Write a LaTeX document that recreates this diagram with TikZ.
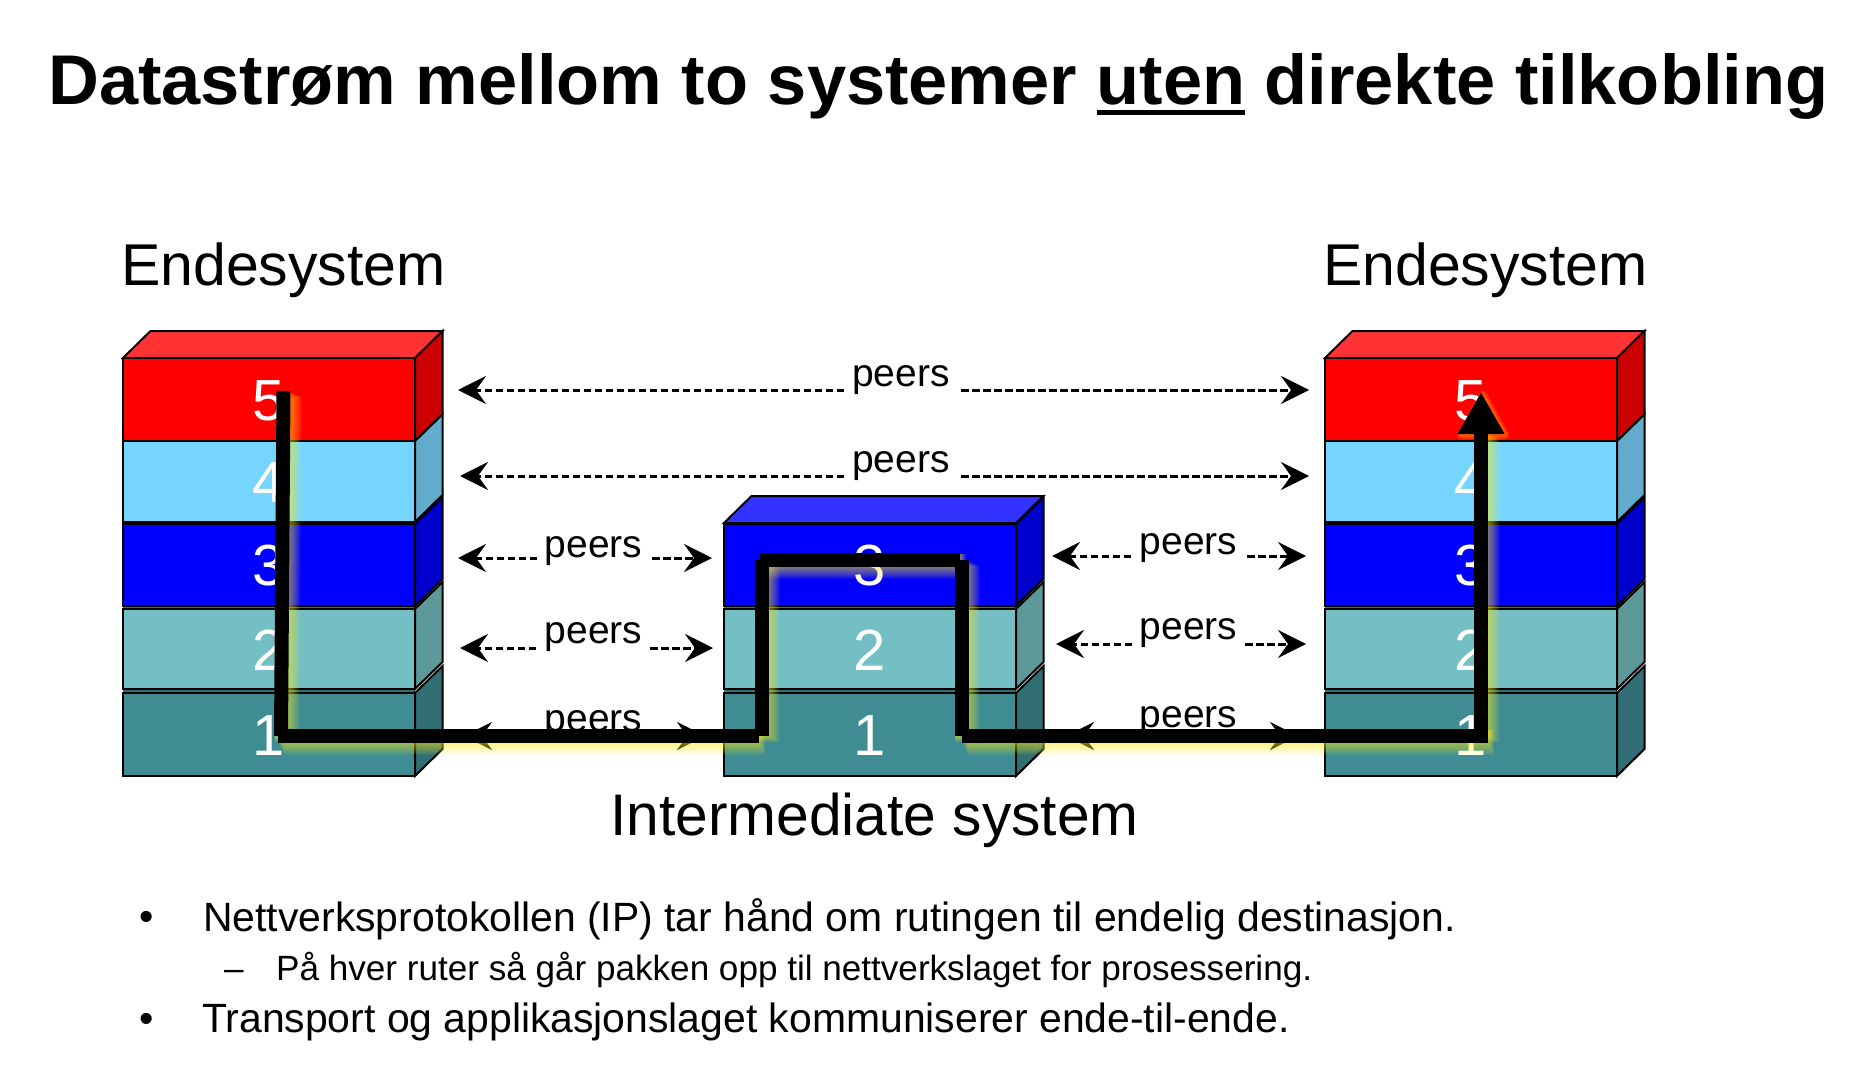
\documentclass[tikz,border=0pt]{standalone}
\usepackage{fontspec}
\setmainfont{Liberation Sans}
\usetikzlibrary{arrows.meta}
\definecolor{cFive}{HTML}{FF0000}\definecolor{cFiveS}{HTML}{CC0000}\definecolor{cFiveT}{HTML}{FF3333}
\definecolor{cFour}{HTML}{76D5FF}\definecolor{cFourS}{HTML}{62ABCC}
\definecolor{cThree}{HTML}{0000FF}\definecolor{cThreeS}{HTML}{0000CC}\definecolor{cThreeT}{HTML}{3333FF}
\definecolor{cTwo}{HTML}{74BFC4}\definecolor{cTwoS}{HTML}{5D9999}
\definecolor{cOne}{HTML}{3F8C93}\definecolor{cOneS}{HTML}{326F75}
\newcommand\ulin[1]{\setbox0\hbox{#1}\rlap{\rule[-10pt]{\wd0}{5pt}}\box0\relax}
% #1 left x, #2 top y, #3 bottom y, #4 front colour, #5 side colour, #6 digit, #7 name
\newcommand\stacklayer[7]{%
  \fill[#5,draw=black,line width=2pt] (#1+292,#2) -- ++(27.5,-27) -- (#1+319.5,#3-27) -- (#1+292,#3) -- cycle;
  \node[facebox,fill=#4,minimum width=292pt,minimum height=#3pt-#2pt] at (#1+146,#2/2+#3/2) {};
  \node[digit] (#7) at (#1+146,#2/2+#3/2+1) {#6};
}
\newcommand\stacktop[3]{%
  \fill[#3,draw=black,line width=2pt] (#1,#2) -- ++(27.5,-27) -- ++(292,0) -- ++(-27.5,27) -- cycle;
}
\newcommand\stackgap[1]{%
  \fill[cOneS] (#1,604) rectangle (#1+292,611);
  \fill[cOneS] (#1,687) rectangle (#1+292,695);
}
\newcommand\glowseg[2]{\draw ([shift={(\gs,\gs)}]#1) -- ([shift={(\gs,\gs)}]#2);}
\tikzset{
  facebox/.style={draw=black,line width=2pt,inner sep=0pt,outer sep=0pt},
  digit/.style={text=white,font=\fontsize{58}{60}\selectfont,inner sep=0pt},
  head/.style={anchor=base west,inner sep=0pt,font=\fontsize{59}{62}\selectfont},
  peerlab/.style={anchor=base,inner sep=0pt,font=\fontsize{39}{42}\selectfont},
  peerline/.style={line width=3pt,dash pattern=on 7.5pt off 3.5pt,-{Stealth[length=28pt,width=28pt,inset=10pt]}},
  route/.style={line width=14pt,black},
  bulA/.style={anchor=base west,inner sep=0pt,font=\fontsize{40.9}{42}\selectfont},
  bulB/.style={anchor=base west,inner sep=0pt,font=\fontsize{35.1}{36}\selectfont},
}
\begin{document}
\begin{tikzpicture}[x=1pt,y=-1pt]
\useasboundingbox (0,0) rectangle (1852,1086);
\fill[white] (0,0) rectangle (1852,1086);

\node[anchor=base west,inner sep=0pt,font=\bfseries\fontsize{70.4}{72}\selectfont] (title) at (48,105) {Datastrøm mellom to systemer \ulin{uten} direkte tilkobling};
\node[head] (endL) at (121,285) {Endesystem};
\node[head] (endR) at (1323,285) {Endesystem};
\node[head,font=\fontsize{58.7}{62}\selectfont] (inter) at (610,835.5) {Intermediate system};

% left stack
\stacktop{123}{358}{cFiveT}
\stackgap{123}
\stacklayer{123}{693}{776}{cOne}{cOneS}{1}{La}
\stacklayer{123}{609}{689}{cTwo}{cTwoS}{2}{Lb}
\stacklayer{123}{524}{606}{cThree}{cThreeS}{3}{Lc}
\stacklayer{123}{441}{522}{cFour}{cFourS}{4}{Ld}
\stacklayer{123}{358}{441}{cFive}{cFiveS}{5}{Le}
% middle stack
\stacktop{724}{523}{cThreeT}
\stackgap{724}
\stacklayer{724}{693}{776}{cOne}{cOneS}{1}{Ma}
\stacklayer{724}{609}{689}{cTwo}{cTwoS}{2}{Mb}
\stacklayer{724}{524}{606}{cThree}{cThreeS}{3}{Mc}
% right stack
\stacktop{1325}{358}{cFiveT}
\stackgap{1325}
\stacklayer{1325}{693}{776}{cOne}{cOneS}{1}{Ra}
\stacklayer{1325}{609}{689}{cTwo}{cTwoS}{2}{Rb}
\stacklayer{1325}{524}{606}{cThree}{cThreeS}{3}{Rc}
\stacklayer{1325}{441}{522}{cFour}{cFourS}{4}{Rd}
\stacklayer{1325}{358}{441}{cFive}{cFiveS}{5}{Re}

% peers labels
\node[peerlab] (pA) at (901,386) {peers};
\node[peerlab] (pB) at (901,472) {peers};
\node[peerlab] (pC) at (593.6,557) {peers};
\node[peerlab] (pD) at (593.6,643) {peers};
\node[peerlab] (pE) at (593.6,731.5) {peers};
\node[peerlab] (pF) at (1188.7,554) {peers};
\node[peerlab] (pG) at (1188.7,639) {peers};
\node[peerlab] (pH) at (1188.7,727.5) {peers};
% peers arrows
\coordinate (aL) at (458,390);\coordinate (aM1) at (844,390);\coordinate (aM2) at (961,390);\coordinate (aR) at (1309,390);
\coordinate (bL) at (460,476);\coordinate (bM1) at (844,476);\coordinate (bM2) at (961,476);\coordinate (bR) at (1309,476);
\coordinate (cL) at (458,558);\coordinate (cM1) at (537,558);\coordinate (cM2) at (652,558);\coordinate (cR) at (712,558);
\coordinate (dL) at (460,648);\coordinate (dM1) at (536,648);\coordinate (dM2) at (650,648);\coordinate (dR) at (713,648);
\coordinate (eL) at (464,736);\coordinate (eM1) at (540,736);\coordinate (eM2) at (650,736);\coordinate (eR) at (705,736);
\coordinate (fL) at (1052,556);\coordinate (fM1) at (1131,556);\coordinate (fM2) at (1247,556);\coordinate (fR) at (1306,556);
\coordinate (gL) at (1056,644);\coordinate (gM1) at (1132,644);\coordinate (gM2) at (1245,644);\coordinate (gR) at (1306,644);
\coordinate (hL) at (1066,736);\coordinate (hM1) at (1136,736);\coordinate (hM2) at (1248,736);\coordinate (hR) at (1298,736);
\foreach \r in {a,b,c,d,e,f,g,h}{
  \draw[peerline] (\r M1) -- (\r L);
  \draw[peerline] (\r M2) -- (\r R);
}

% route coordinates
\coordinate (r1) at (283.5,391);\coordinate (r2) at (281,736);
\coordinate (r3) at (278,736);\coordinate (r4) at (759,736);
\coordinate (r5) at (761.5,736);\coordinate (r6) at (761.5,560);
\coordinate (r7) at (760,560);\coordinate (r8) at (960,560);
\coordinate (r9) at (961.5,560);\coordinate (r10) at (961.5,736);
\coordinate (r11) at (962,736);\coordinate (r12) at (1488,736);
\coordinate (r13) at (1481,736);\coordinate (r14) at (1481,392);
\coordinate (r15) at (1481,432);
% soft shadow: each stroke keeps its far edge hidden behind the route
\foreach \w in {14,15,...,25}{
  \pgfmathsetmacro\gs{\w/2-7+0.5}
  \begin{scope}[line width=\w pt,draw=yellow!90!white,draw opacity=.055]
    \glowseg{r1}{r2}
    \glowseg{r3}{r4}
    \glowseg{r6}{r5}
    \glowseg{r7}{r8}
    \glowseg{r9}{r10}
    \glowseg{r11}{r12}
    \glowseg{r13}{r15}
  \end{scope}
}
\foreach \w in {9,7,5,3}{
  \draw[draw=yellow!90!white,draw opacity=.10,line width=\w pt,line join=round]
    (r14) ++(2,3) -- ++(22,40) -- ++(-44,0) -- cycle;
}
% route
\draw[route] (r1) -- (r2);
\draw[route] (r3) -- (r4);
\draw[route] (r5) -- (r6);
\draw[route] (r7) -- (r8);
\draw[route] (r9) -- (r10);
\draw[route] (r11) -- (r12);
\draw[route,-{Triangle[length=42pt,width=44pt]}] (r13) -- (r14);

% bullets
\node[bulA] (b1) at (139,930) {•};
\node[bulA] (t1) at (203,931) {Nettverksprotokollen (IP) tar hånd om rutingen til endelig destinasjon.};
\node[bulB] (b2) at (224,980) {–};
\node[bulB] (t2) at (276,980) {På hver ruter så går pakken opp til nettverkslaget for prosessering.};
\node[bulA] (b3) at (139,1032) {•};
\node[bulA] (t3) at (202,1032) {Transport og applikasjonslaget kommuniserer ende-til-ende.};
\end{tikzpicture}
\end{document}
